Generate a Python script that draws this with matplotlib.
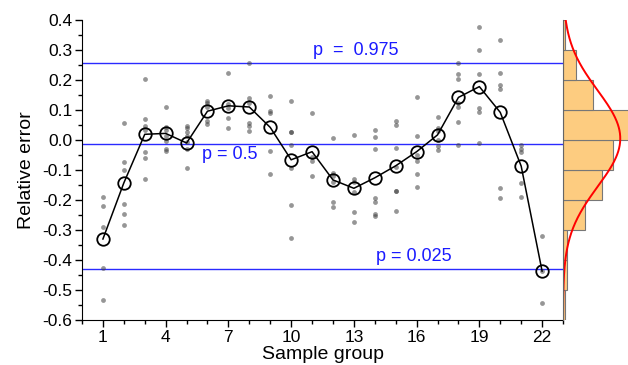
import matplotlib
matplotlib.use("Agg")
import matplotlib.pyplot as plt
import numpy as np
from matplotlib.ticker import MultipleLocator, FormatStrFormatter

plt.rcParams['font.family'] = ['Liberation Sans', 'DejaVu Sans']

# individual relative errors per sample group
groups = list(range(1, 23))
points = [
    [-0.191, -0.219, -0.290, -0.426, -0.533],
    [0.056, -0.072, -0.101, -0.215, -0.247, -0.282],
    [0.202, 0.070, 0.047, 0.032, -0.040, -0.059, -0.130],
    [0.109, 0.044, 0.033, 0.013, -0.003, -0.031, -0.038],
    [0.047, 0.039, 0.026, 0.013, -0.006, -0.031, -0.095],
    [0.130, 0.122, 0.111, 0.063, 0.052],
    [0.224, 0.119, 0.106, 0.074, 0.039],
    [0.257, 0.139, 0.125, 0.056, 0.047, 0.031],
    [0.147, 0.097, 0.089, -0.037, -0.112],
    [0.130, 0.026, 0.026, -0.017, -0.092, -0.217, -0.326],
    [0.089, -0.056, -0.069, -0.119],
    [0.007, -0.111, -0.119, -0.141, -0.206, -0.222],
    [0.016, -0.130, -0.139, -0.172, -0.239, -0.273],
    [0.033, 0.009, -0.030, -0.194, -0.206, -0.247, -0.254],
    [0.063, 0.050, -0.026, -0.089, -0.170, -0.170, -0.236],
    [0.143, 0.013, -0.050, -0.070, -0.113, -0.158],
    [0.078, 0.041, 0.031, 0.000, -0.019, -0.033],
    [0.256, 0.220, 0.202, 0.124, 0.111, 0.061, -0.017],
    [0.377, 0.299, 0.220, 0.108, 0.092, -0.011],
    [0.334, 0.224, 0.183, 0.170, -0.159, -0.194],
    [-0.017, -0.031, -0.039, -0.144, -0.190],
    [-0.320, -0.437, -0.542],
]
means = [-0.330, -0.143, 0.019, 0.022, -0.010, 0.096, 0.114, 0.110, 0.042, -0.066, -0.039,
         -0.133, -0.161, -0.126, -0.086, -0.039, 0.017, 0.142, 0.178, 0.092, -0.087, -0.437]

# percentile lines
p_values = [0.256, -0.013, -0.430]
p_labels = ["p  =  0.975", "p = 0.5", "p = 0.025"]
p_label_x = [13.1, 7.05, 15.85]
p_label_y = [0.30, -0.05, -0.388]

# histogram of all errors (bins of 0.1 from -0.6 to 0.4)
hist_edges = [-0.6, -0.5, -0.4, -0.3, -0.2, -0.1, 0.0, 0.1, 0.2, 0.3, 0.4]
hist_counts = [1, 2, 2, 10, 18, 23, 33, 14, 6, 1]
fit_mean, fit_sd, fit_n = 0.005, 0.16, 106

fig = plt.figure(figsize=(6.28, 3.65), dpi=100)
ax = fig.add_axes([0.1306, 0.1233, 0.7659, 0.8219])
axh = fig.add_axes([0.8965, 0.1233, 0.1035, 0.8219], sharey=ax)

for g, pts in zip(groups, points):
    ax.scatter([g] * len(pts), pts, s=12, color='#404040', alpha=0.55, lw=0, zorder=2)

ax.plot(groups, means, color='black', lw=1.1, marker='o', ms=9, mfc='none',
        mec='black', mew=1.3, zorder=3)

for v, lab, lx, ly in zip(p_values, p_labels, p_label_x, p_label_y):
    ax.axhline(v, color='#2a2aff', lw=1.0, zorder=1)
    ax.text(lx, ly, lab, color='#1a1aff', fontsize=13, ha='center', va='center')

ax.set_xlim(0, 23)
ax.set_ylim(-0.6, 0.4)
ax.set_xticks(range(1, 23, 3))
ax.xaxis.set_minor_locator(MultipleLocator(1))
ax.yaxis.set_major_locator(MultipleLocator(0.1))
ax.yaxis.set_minor_locator(MultipleLocator(0.05))
ax.yaxis.set_major_formatter(FormatStrFormatter('%.1f'))
ax.tick_params(which='major', direction='out', length=5, width=1, labelsize=12.5, pad=2)
ax.tick_params(which='minor', direction='out', length=3, width=1)
ax.spines['top'].set_visible(False)
ax.spines['right'].set_visible(False)
ax.set_xlabel("Sample group", fontsize=14, labelpad=1)
ax.set_ylabel("Relative error", fontsize=14, labelpad=5)

# histogram panel
bottoms = hist_edges[:-1]
heights = np.diff(hist_edges)
axh.barh(bottoms, hist_counts, height=heights, align='edge', color='#fdcc80',
         edgecolor='#777777', lw=0.8)
yy = np.linspace(-0.6, 0.4, 300)
curve = fit_n * 0.1 * np.exp(-0.5 * ((yy - fit_mean) / fit_sd) ** 2) / (fit_sd * np.sqrt(2 * np.pi))
axh.plot(curve, yy, color='red', lw=1.4)
axh.set_xlim(0, 30)
for s in ['top', 'right', 'bottom']:
    axh.spines[s].set_visible(False)
axh.spines['left'].set_color('#666666')
axh.tick_params(left=False, bottom=False, labelleft=False, labelbottom=False, which='both')

fig.savefig("out.png", dpi=100)
